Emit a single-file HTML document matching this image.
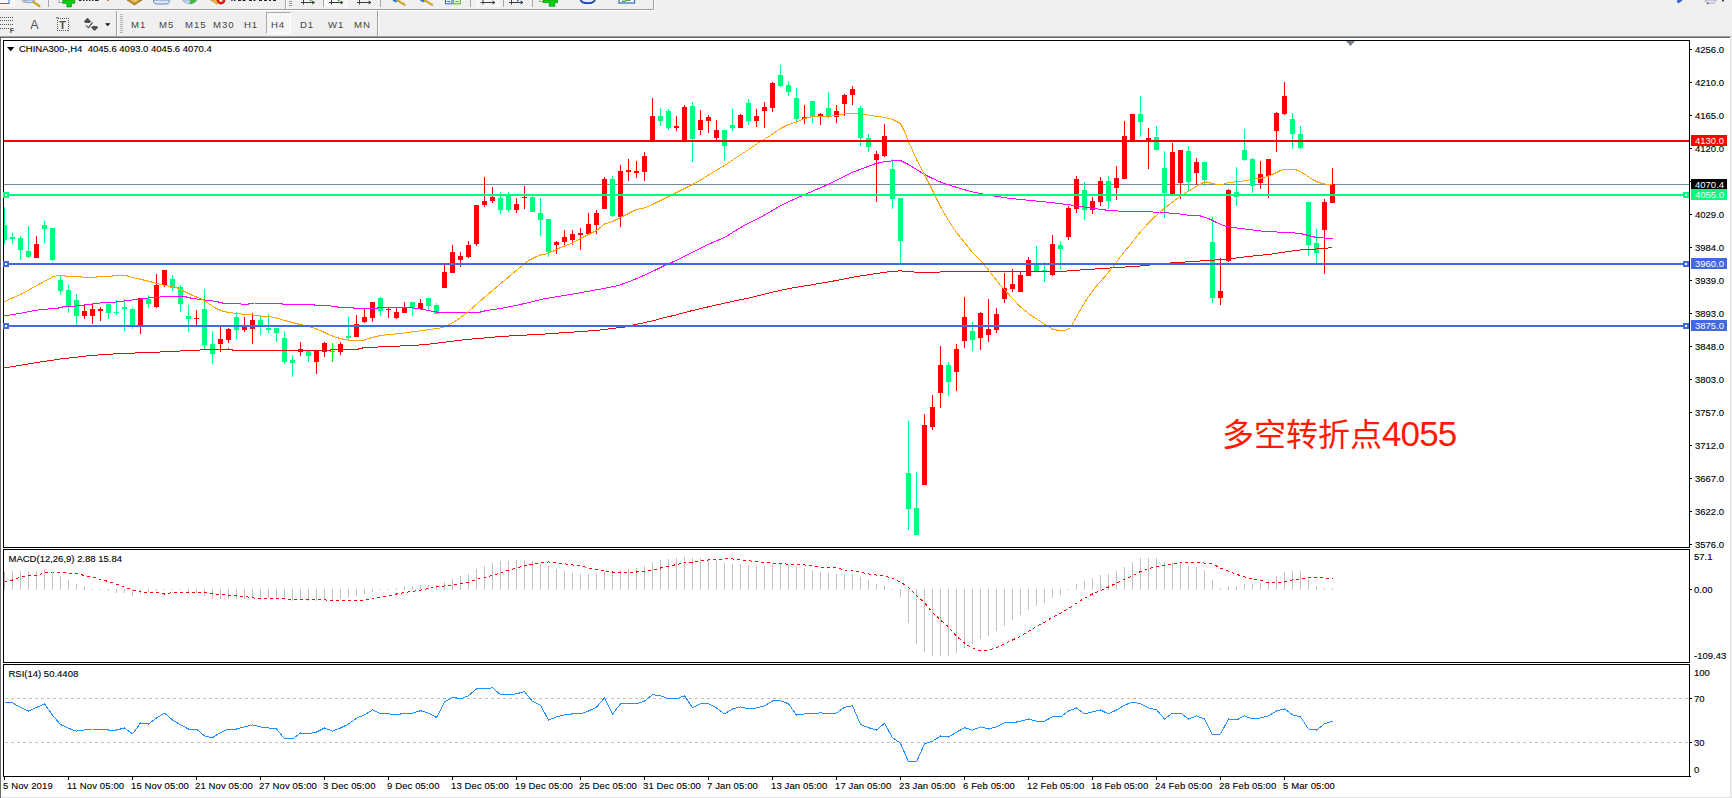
<!DOCTYPE html>
<html><head><meta charset="utf-8"><title>CHINA300-,H4</title>
<style>
html,body{margin:0;padding:0;background:#fff;}
body{width:1732px;height:798px;overflow:hidden;position:relative;font-family:"Liberation Sans","Noto Sans CJK SC",sans-serif;font-size:9.5px;line-height:10px;color:#000;}
.a{position:absolute;}
.t{position:absolute;white-space:pre;letter-spacing:0;height:10px;-webkit-text-stroke:.12px #000;}
.tb{position:absolute;white-space:pre;color:#444;font-size:9.6px;letter-spacing:0.9px}
.d{position:absolute;white-space:pre;letter-spacing:0.12px;height:10px;-webkit-text-stroke:.12px #000;}
.tag{position:absolute;left:1691px;width:36px;color:#fff;}
.tag span{position:absolute;left:4px;top:1px;white-space:pre;letter-spacing:0}
svg{position:absolute;left:0;top:0;}
</style></head><body>
<div class="a" style="left:0;top:0;width:1732px;height:36px;background:#f0f0f0"></div><div class="a" style="left:0;top:9px;width:654px;height:1px;background:#a0a0a0"></div><div class="a" style="left:0;top:10px;width:655px;height:1px;background:#fff"></div><div class="a" style="left:653px;top:0;width:1px;height:9px;background:#a0a0a0"></div><div class="a" style="left:654px;top:0;width:1px;height:10px;background:#fff"></div><div class="a" style="left:0;top:36px;width:1731px;height:1px;background:#a0a0a0"></div><div class="a" style="left:0;top:37px;width:1730px;height:1px;background:#696969"></div><div class="a" style="left:0;top:37px;width:1px;height:761px;background:#696969"></div><div class="a" style="left:1730px;top:38px;width:1px;height:760px;background:#e3e3e3"></div><div class="a" style="left:1731px;top:36px;width:1px;height:762px;background:#f0f0f0"></div><div class="a" style="left:1px;top:797px;width:1731px;height:1px;background:#e3e3e3"></div><div class="a" style="left:116px;top:11px;width:1px;height:25px;background:#a0a0a0"></div><div class="a" style="left:117px;top:11px;width:1px;height:25px;background:#fff"></div><div class="a" style="left:377px;top:11px;width:1px;height:25px;background:#a0a0a0"></div><div class="a" style="left:378px;top:11px;width:1px;height:25px;background:#fff"></div><div class="a" style="left:120px;top:14px;width:3px;height:20px;background:repeating-linear-gradient(#b4b4b4 0,#b4b4b4 1px,#f0f0f0 1px,#f0f0f0 2px)"></div><div class="a" style="left:266px;top:12px;width:25px;height:22px;background:#f6f6f6;border:1px solid #a8a8a8;box-sizing:border-box;border-right-color:#fff;border-bottom-color:#fff"></div><div class="tb" style="left:131px;top:20px">M1</div><div class="tb" style="left:159px;top:20px">M5</div><div class="tb" style="left:185px;top:20px">M15</div><div class="tb" style="left:213px;top:20px">M30</div><div class="tb" style="left:244px;top:20px">H1</div><div class="tb" style="left:271px;top:20px">H4</div><div class="tb" style="left:300px;top:20px">D1</div><div class="tb" style="left:328px;top:20px">W1</div><div class="tb" style="left:354px;top:20px">MN</div>
<svg width="1732" height="798" viewBox="0 0 1732 798" shape-rendering="crispEdges">
<defs><clipPath id="cm"><rect x="4" y="41" width="1685" height="506"/></clipPath><clipPath id="c2"><rect x="4" y="550" width="1685" height="112"/></clipPath><clipPath id="c3"><rect x="4" y="665" width="1685" height="111"/></clipPath></defs>
<path d="M3.5 40.5H1689.5V547.5H3.5Z" fill="none" stroke="#000" stroke-width="1"/>
<path d="M3.5 549.5H1689.5V662.5H3.5Z" fill="none" stroke="#000" stroke-width="1"/>
<path d="M3.5 664.5H1689.5V776.5H3.5Z" fill="none" stroke="#000" stroke-width="1"/>
<rect x="1690" y="49" width="2" height="1" fill="#000"/>
<rect x="1690" y="82" width="2" height="1" fill="#000"/>
<rect x="1690" y="115" width="2" height="1" fill="#000"/>
<rect x="1690" y="148" width="2" height="1" fill="#000"/>
<rect x="1690" y="181" width="2" height="1" fill="#000"/>
<rect x="1690" y="214" width="2" height="1" fill="#000"/>
<rect x="1690" y="247" width="2" height="1" fill="#000"/>
<rect x="1690" y="280" width="2" height="1" fill="#000"/>
<rect x="1690" y="313" width="2" height="1" fill="#000"/>
<rect x="1690" y="346" width="2" height="1" fill="#000"/>
<rect x="1690" y="379" width="2" height="1" fill="#000"/>
<rect x="1690" y="412" width="2" height="1" fill="#000"/>
<rect x="1690" y="445" width="2" height="1" fill="#000"/>
<rect x="1690" y="478" width="2" height="1" fill="#000"/>
<rect x="1690" y="511" width="2" height="1" fill="#000"/>
<rect x="1690" y="544" width="2" height="1" fill="#000"/>
<rect x="1690" y="589" width="2" height="1" fill="#000"/>
<rect x="1690" y="698" width="2" height="1" fill="#000"/>
<rect x="1690" y="742" width="2" height="1" fill="#000"/>
<rect x="1690" y="776" width="1" height="1" fill="#000"/>
<rect x="4" y="777" width="1" height="3" fill="#000"/>
<rect x="68" y="777" width="1" height="3" fill="#000"/>
<rect x="132" y="777" width="1" height="3" fill="#000"/>
<rect x="196" y="777" width="1" height="3" fill="#000"/>
<rect x="260" y="777" width="1" height="3" fill="#000"/>
<rect x="324" y="777" width="1" height="3" fill="#000"/>
<rect x="388" y="777" width="1" height="3" fill="#000"/>
<rect x="452" y="777" width="1" height="3" fill="#000"/>
<rect x="516" y="777" width="1" height="3" fill="#000"/>
<rect x="580" y="777" width="1" height="3" fill="#000"/>
<rect x="644" y="777" width="1" height="3" fill="#000"/>
<rect x="708" y="777" width="1" height="3" fill="#000"/>
<rect x="772" y="777" width="1" height="3" fill="#000"/>
<rect x="836" y="777" width="1" height="3" fill="#000"/>
<rect x="900" y="777" width="1" height="3" fill="#000"/>
<rect x="964" y="777" width="1" height="3" fill="#000"/>
<rect x="1028" y="777" width="1" height="3" fill="#000"/>
<rect x="1092" y="777" width="1" height="3" fill="#000"/>
<rect x="1156" y="777" width="1" height="3" fill="#000"/>
<rect x="1220" y="777" width="1" height="3" fill="#000"/>
<rect x="1284" y="777" width="1" height="3" fill="#000"/>
<path d="M1346 41H1355L1350.5 46Z" fill="#708090" shape-rendering="auto"/>
<g clip-path="url(#cm)">
<rect x="4" y="184" width="1685" height="1" fill="#778899"/>
<rect x="4" y="207" width="1" height="37" fill="#00ff7f"/><rect x="2" y="225" width="5" height="15" fill="#00ff7f"/>
<rect x="12" y="233" width="1" height="11" fill="#00ff7f"/><rect x="10" y="237" width="5" height="2" fill="#00ff7f"/>
<rect x="20" y="236" width="1" height="24" fill="#00ff7f"/><rect x="18" y="238" width="5" height="12" fill="#00ff7f"/>
<rect x="28" y="226" width="1" height="32" fill="#00ff7f"/><rect x="26" y="251" width="5" height="6" fill="#00ff7f"/>
<rect x="36" y="236" width="1" height="22" fill="#ff0000"/><rect x="34" y="244" width="5" height="14" fill="#ff0000"/>
<rect x="44" y="221" width="1" height="22" fill="#00ff7f"/><rect x="42" y="225" width="5" height="4" fill="#00ff7f"/>
<rect x="52" y="228" width="1" height="33" fill="#00ff7f"/><rect x="50" y="228" width="5" height="32" fill="#00ff7f"/>
<rect x="60" y="275" width="1" height="20" fill="#00ff7f"/><rect x="58" y="280" width="5" height="11" fill="#00ff7f"/>
<rect x="68" y="285" width="1" height="28" fill="#00ff7f"/><rect x="66" y="290" width="5" height="16" fill="#00ff7f"/>
<rect x="76" y="294" width="1" height="32" fill="#00ff7f"/><rect x="74" y="300" width="5" height="16" fill="#00ff7f"/>
<rect x="84" y="305" width="1" height="14" fill="#ff0000"/><rect x="82" y="311" width="5" height="5" fill="#ff0000"/>
<rect x="92" y="304" width="1" height="20" fill="#ff0000"/><rect x="90" y="309" width="5" height="7" fill="#ff0000"/>
<rect x="100" y="307" width="1" height="14" fill="#ff0000"/><rect x="98" y="309" width="5" height="2" fill="#ff0000"/>
<rect x="108" y="303" width="1" height="16" fill="#00ff7f"/><rect x="106" y="304" width="5" height="9" fill="#00ff7f"/>
<rect x="116" y="300" width="1" height="15" fill="#00ff7f"/><rect x="114" y="312" width="5" height="1" fill="#00ff7f"/>
<rect x="124" y="299" width="1" height="32" fill="#00ff7f"/><rect x="122" y="307" width="5" height="2" fill="#00ff7f"/>
<rect x="132" y="308" width="1" height="21" fill="#00ff7f"/><rect x="130" y="309" width="5" height="18" fill="#00ff7f"/>
<rect x="140" y="298" width="1" height="36" fill="#ff0000"/><rect x="138" y="298" width="5" height="29" fill="#ff0000"/>
<rect x="148" y="295" width="1" height="13" fill="#00ff7f"/><rect x="146" y="299" width="5" height="5" fill="#00ff7f"/>
<rect x="156" y="274" width="1" height="34" fill="#ff0000"/><rect x="154" y="285" width="5" height="22" fill="#ff0000"/>
<rect x="164" y="270" width="1" height="17" fill="#ff0000"/><rect x="162" y="270" width="5" height="15" fill="#ff0000"/>
<rect x="172" y="275" width="1" height="16" fill="#00ff7f"/><rect x="170" y="279" width="5" height="9" fill="#00ff7f"/>
<rect x="180" y="285" width="1" height="27" fill="#00ff7f"/><rect x="178" y="287" width="5" height="17" fill="#00ff7f"/>
<rect x="188" y="305" width="1" height="27" fill="#00ff7f"/><rect x="186" y="316" width="5" height="3" fill="#00ff7f"/>
<rect x="196" y="310" width="1" height="16" fill="#ff0000"/><rect x="194" y="318" width="5" height="1" fill="#ff0000"/>
<rect x="204" y="289" width="1" height="61" fill="#00ff7f"/><rect x="202" y="309" width="5" height="36" fill="#00ff7f"/>
<rect x="212" y="331" width="1" height="33" fill="#00ff7f"/><rect x="210" y="344" width="5" height="10" fill="#00ff7f"/>
<rect x="220" y="327" width="1" height="25" fill="#ff0000"/><rect x="218" y="339" width="5" height="5" fill="#ff0000"/>
<rect x="228" y="328" width="1" height="15" fill="#ff0000"/><rect x="226" y="329" width="5" height="11" fill="#ff0000"/>
<rect x="236" y="312" width="1" height="27" fill="#00ff7f"/><rect x="234" y="317" width="5" height="13" fill="#00ff7f"/>
<rect x="244" y="317" width="1" height="15" fill="#ff0000"/><rect x="242" y="326" width="5" height="4" fill="#ff0000"/>
<rect x="252" y="313" width="1" height="31" fill="#ff0000"/><rect x="250" y="320" width="5" height="9" fill="#ff0000"/>
<rect x="260" y="316" width="1" height="19" fill="#00ff7f"/><rect x="258" y="320" width="5" height="6" fill="#00ff7f"/>
<rect x="268" y="314" width="1" height="19" fill="#00ff7f"/><rect x="266" y="328" width="5" height="2" fill="#00ff7f"/>
<rect x="276" y="328" width="1" height="14" fill="#00ff7f"/><rect x="274" y="328" width="5" height="5" fill="#00ff7f"/>
<rect x="284" y="331" width="1" height="33" fill="#00ff7f"/><rect x="282" y="338" width="5" height="24" fill="#00ff7f"/>
<rect x="292" y="355" width="1" height="22" fill="#00ff7f"/><rect x="290" y="360" width="5" height="3" fill="#00ff7f"/>
<rect x="300" y="342" width="1" height="14" fill="#ff0000"/><rect x="298" y="349" width="5" height="3" fill="#ff0000"/>
<rect x="308" y="350" width="1" height="12" fill="#00ff7f"/><rect x="306" y="350" width="5" height="6" fill="#00ff7f"/>
<rect x="316" y="351" width="1" height="23" fill="#ff0000"/><rect x="314" y="351" width="5" height="11" fill="#ff0000"/>
<rect x="324" y="342" width="1" height="15" fill="#ff0000"/><rect x="322" y="343" width="5" height="9" fill="#ff0000"/>
<rect x="332" y="343" width="1" height="19" fill="#00ff00"/><rect x="330" y="351" width="5" height="1" fill="#00ff00"/>
<rect x="340" y="342" width="1" height="13" fill="#ff0000"/><rect x="338" y="344" width="5" height="8" fill="#ff0000"/>
<rect x="348" y="317" width="1" height="22" fill="#00ff7f"/><rect x="346" y="336" width="5" height="2" fill="#00ff7f"/>
<rect x="356" y="315" width="1" height="22" fill="#ff0000"/><rect x="354" y="324" width="5" height="13" fill="#ff0000"/>
<rect x="364" y="308" width="1" height="15" fill="#ff0000"/><rect x="362" y="317" width="5" height="5" fill="#ff0000"/>
<rect x="372" y="302" width="1" height="20" fill="#ff0000"/><rect x="370" y="302" width="5" height="16" fill="#ff0000"/>
<rect x="380" y="297" width="1" height="19" fill="#00ff7f"/><rect x="378" y="298" width="5" height="13" fill="#00ff7f"/>
<rect x="388" y="307" width="1" height="11" fill="#ff0000"/><rect x="386" y="309" width="5" height="1" fill="#ff0000"/>
<rect x="396" y="307" width="1" height="12" fill="#ff0000"/><rect x="394" y="312" width="5" height="6" fill="#ff0000"/>
<rect x="404" y="302" width="1" height="11" fill="#ff0000"/><rect x="402" y="307" width="5" height="6" fill="#ff0000"/>
<rect x="412" y="302" width="1" height="14" fill="#00ff7f"/><rect x="410" y="302" width="5" height="6" fill="#00ff7f"/>
<rect x="420" y="299" width="1" height="11" fill="#ff0000"/><rect x="418" y="303" width="5" height="6" fill="#ff0000"/>
<rect x="428" y="298" width="1" height="12" fill="#00ff7f"/><rect x="426" y="298" width="5" height="8" fill="#00ff7f"/>
<rect x="436" y="303" width="1" height="11" fill="#00ff7f"/><rect x="434" y="305" width="5" height="9" fill="#00ff7f"/>
<rect x="444" y="265" width="1" height="23" fill="#ff0000"/><rect x="442" y="272" width="5" height="16" fill="#ff0000"/>
<rect x="452" y="245" width="1" height="28" fill="#ff0000"/><rect x="450" y="252" width="5" height="21" fill="#ff0000"/>
<rect x="460" y="252" width="1" height="15" fill="#ff0000"/><rect x="458" y="256" width="5" height="4" fill="#ff0000"/>
<rect x="468" y="241" width="1" height="17" fill="#ff0000"/><rect x="466" y="245" width="5" height="12" fill="#ff0000"/>
<rect x="476" y="205" width="1" height="41" fill="#ff0000"/><rect x="474" y="205" width="5" height="39" fill="#ff0000"/>
<rect x="484" y="177" width="1" height="30" fill="#ff0000"/><rect x="482" y="201" width="5" height="4" fill="#ff0000"/>
<rect x="492" y="187" width="1" height="16" fill="#ff0000"/><rect x="490" y="197" width="5" height="4" fill="#ff0000"/>
<rect x="500" y="192" width="1" height="22" fill="#00ff7f"/><rect x="498" y="198" width="5" height="12" fill="#00ff7f"/>
<rect x="508" y="192" width="1" height="20" fill="#00ff7f"/><rect x="506" y="196" width="5" height="14" fill="#00ff7f"/>
<rect x="516" y="198" width="1" height="15" fill="#ff0000"/><rect x="514" y="204" width="5" height="6" fill="#ff0000"/>
<rect x="524" y="186" width="1" height="23" fill="#ff0000"/><rect x="522" y="197" width="5" height="1" fill="#ff0000"/>
<rect x="532" y="196" width="1" height="16" fill="#00ff7f"/><rect x="530" y="197" width="5" height="15" fill="#00ff7f"/>
<rect x="540" y="198" width="1" height="38" fill="#00ff7f"/><rect x="538" y="213" width="5" height="7" fill="#00ff7f"/>
<rect x="548" y="219" width="1" height="38" fill="#00ff7f"/><rect x="546" y="219" width="5" height="33" fill="#00ff7f"/>
<rect x="556" y="241" width="1" height="13" fill="#ff0000"/><rect x="554" y="242" width="5" height="3" fill="#ff0000"/>
<rect x="564" y="230" width="1" height="17" fill="#ff0000"/><rect x="562" y="237" width="5" height="5" fill="#ff0000"/>
<rect x="572" y="230" width="1" height="15" fill="#ff0000"/><rect x="570" y="234" width="5" height="6" fill="#ff0000"/>
<rect x="580" y="228" width="1" height="22" fill="#ff0000"/><rect x="578" y="233" width="5" height="2" fill="#ff0000"/>
<rect x="588" y="213" width="1" height="21" fill="#ff0000"/><rect x="586" y="224" width="5" height="10" fill="#ff0000"/>
<rect x="596" y="210" width="1" height="24" fill="#ff0000"/><rect x="594" y="213" width="5" height="12" fill="#ff0000"/>
<rect x="604" y="177" width="1" height="32" fill="#ff0000"/><rect x="602" y="179" width="5" height="30" fill="#ff0000"/>
<rect x="612" y="176" width="1" height="41" fill="#00ff7f"/><rect x="610" y="179" width="5" height="37" fill="#00ff7f"/>
<rect x="620" y="165" width="1" height="62" fill="#ff0000"/><rect x="618" y="171" width="5" height="46" fill="#ff0000"/>
<rect x="628" y="159" width="1" height="22" fill="#ff0000"/><rect x="626" y="170" width="5" height="2" fill="#ff0000"/>
<rect x="636" y="161" width="1" height="17" fill="#ff0000"/><rect x="634" y="171" width="5" height="2" fill="#ff0000"/>
<rect x="644" y="152" width="1" height="29" fill="#ff0000"/><rect x="642" y="156" width="5" height="16" fill="#ff0000"/>
<rect x="652" y="98" width="1" height="44" fill="#ff0000"/><rect x="650" y="116" width="5" height="26" fill="#ff0000"/>
<rect x="660" y="108" width="1" height="18" fill="#00ff7f"/><rect x="658" y="116" width="5" height="5" fill="#00ff7f"/>
<rect x="668" y="109" width="1" height="21" fill="#00ff7f"/><rect x="666" y="111" width="5" height="17" fill="#00ff7f"/>
<rect x="676" y="116" width="1" height="15" fill="#ff0000"/><rect x="674" y="126" width="5" height="2" fill="#ff0000"/>
<rect x="684" y="105" width="1" height="37" fill="#ff0000"/><rect x="682" y="107" width="5" height="35" fill="#ff0000"/>
<rect x="692" y="102" width="1" height="60" fill="#00ff7f"/><rect x="690" y="106" width="5" height="33" fill="#00ff7f"/>
<rect x="700" y="110" width="1" height="25" fill="#ff0000"/><rect x="698" y="120" width="5" height="10" fill="#ff0000"/>
<rect x="708" y="115" width="1" height="18" fill="#ff0000"/><rect x="706" y="117" width="5" height="4" fill="#ff0000"/>
<rect x="716" y="120" width="1" height="20" fill="#ff0000"/><rect x="714" y="130" width="5" height="8" fill="#ff0000"/>
<rect x="724" y="130" width="1" height="31" fill="#00ff7f"/><rect x="722" y="130" width="5" height="16" fill="#00ff7f"/>
<rect x="732" y="109" width="1" height="22" fill="#00ff7f"/><rect x="730" y="125" width="5" height="3" fill="#00ff7f"/>
<rect x="740" y="114" width="1" height="14" fill="#ff0000"/><rect x="738" y="115" width="5" height="13" fill="#ff0000"/>
<rect x="748" y="99" width="1" height="26" fill="#00ff7f"/><rect x="746" y="103" width="5" height="18" fill="#00ff7f"/>
<rect x="756" y="109" width="1" height="18" fill="#ff0000"/><rect x="754" y="116" width="5" height="5" fill="#ff0000"/>
<rect x="764" y="102" width="1" height="26" fill="#ff0000"/><rect x="762" y="107" width="5" height="4" fill="#ff0000"/>
<rect x="772" y="82" width="1" height="30" fill="#ff0000"/><rect x="770" y="83" width="5" height="25" fill="#ff0000"/>
<rect x="780" y="65" width="1" height="22" fill="#00ff7f"/><rect x="778" y="75" width="5" height="11" fill="#00ff7f"/>
<rect x="788" y="81" width="1" height="15" fill="#00ff7f"/><rect x="786" y="85" width="5" height="7" fill="#00ff7f"/>
<rect x="796" y="88" width="1" height="33" fill="#00ff7f"/><rect x="794" y="98" width="5" height="21" fill="#00ff7f"/>
<rect x="804" y="105" width="1" height="19" fill="#ff0000"/><rect x="802" y="117" width="5" height="2" fill="#ff0000"/>
<rect x="812" y="101" width="1" height="22" fill="#00ff7f"/><rect x="810" y="101" width="5" height="15" fill="#00ff7f"/>
<rect x="820" y="113" width="1" height="12" fill="#ff0000"/><rect x="818" y="114" width="5" height="2" fill="#ff0000"/>
<rect x="828" y="92" width="1" height="26" fill="#00ff7f"/><rect x="826" y="108" width="5" height="9" fill="#00ff7f"/>
<rect x="836" y="105" width="1" height="18" fill="#ff0000"/><rect x="834" y="111" width="5" height="6" fill="#ff0000"/>
<rect x="844" y="94" width="1" height="22" fill="#ff0000"/><rect x="842" y="95" width="5" height="9" fill="#ff0000"/>
<rect x="852" y="86" width="1" height="19" fill="#ff0000"/><rect x="850" y="89" width="5" height="6" fill="#ff0000"/>
<rect x="860" y="106" width="1" height="40" fill="#00ff7f"/><rect x="858" y="108" width="5" height="30" fill="#00ff7f"/>
<rect x="868" y="134" width="1" height="18" fill="#00ff7f"/><rect x="866" y="138" width="5" height="9" fill="#00ff7f"/>
<rect x="876" y="151" width="1" height="51" fill="#ff0000"/><rect x="874" y="154" width="5" height="6" fill="#ff0000"/>
<rect x="884" y="124" width="1" height="33" fill="#ff0000"/><rect x="882" y="136" width="5" height="20" fill="#ff0000"/>
<rect x="892" y="159" width="1" height="50" fill="#00ff7f"/><rect x="890" y="169" width="5" height="30" fill="#00ff7f"/>
<rect x="900" y="198" width="1" height="66" fill="#00ff7f"/><rect x="898" y="198" width="5" height="43" fill="#00ff7f"/>
<rect x="908" y="421" width="1" height="109" fill="#00ff7f"/><rect x="906" y="473" width="5" height="36" fill="#00ff7f"/>
<rect x="916" y="472" width="1" height="63" fill="#00ff7f"/><rect x="914" y="508" width="5" height="27" fill="#00ff7f"/>
<rect x="924" y="414" width="1" height="71" fill="#ff0000"/><rect x="922" y="425" width="5" height="60" fill="#ff0000"/>
<rect x="932" y="395" width="1" height="35" fill="#ff0000"/><rect x="930" y="407" width="5" height="20" fill="#ff0000"/>
<rect x="940" y="346" width="1" height="62" fill="#ff0000"/><rect x="938" y="365" width="5" height="28" fill="#ff0000"/>
<rect x="948" y="362" width="1" height="34" fill="#00ff7f"/><rect x="946" y="365" width="5" height="17" fill="#00ff7f"/>
<rect x="956" y="344" width="1" height="47" fill="#ff0000"/><rect x="954" y="349" width="5" height="23" fill="#ff0000"/>
<rect x="964" y="297" width="1" height="51" fill="#ff0000"/><rect x="962" y="317" width="5" height="24" fill="#ff0000"/>
<rect x="972" y="322" width="1" height="29" fill="#00ff7f"/><rect x="970" y="331" width="5" height="9" fill="#00ff7f"/>
<rect x="980" y="312" width="1" height="38" fill="#ff0000"/><rect x="978" y="313" width="5" height="25" fill="#ff0000"/>
<rect x="988" y="299" width="1" height="43" fill="#ff0000"/><rect x="986" y="329" width="5" height="6" fill="#ff0000"/>
<rect x="996" y="308" width="1" height="25" fill="#ff0000"/><rect x="994" y="314" width="5" height="16" fill="#ff0000"/>
<rect x="1004" y="273" width="1" height="30" fill="#ff0000"/><rect x="1002" y="288" width="5" height="11" fill="#ff0000"/>
<rect x="1012" y="269" width="1" height="23" fill="#ff0000"/><rect x="1010" y="284" width="5" height="5" fill="#ff0000"/>
<rect x="1020" y="272" width="1" height="20" fill="#ff0000"/><rect x="1018" y="275" width="5" height="17" fill="#ff0000"/>
<rect x="1028" y="257" width="1" height="19" fill="#ff0000"/><rect x="1026" y="260" width="5" height="16" fill="#ff0000"/>
<rect x="1036" y="246" width="1" height="25" fill="#00ff7f"/><rect x="1034" y="263" width="5" height="8" fill="#00ff7f"/>
<rect x="1044" y="262" width="1" height="20" fill="#00ff7f"/><rect x="1042" y="270" width="5" height="1" fill="#00ff7f"/>
<rect x="1052" y="235" width="1" height="41" fill="#ff0000"/><rect x="1050" y="244" width="5" height="31" fill="#ff0000"/>
<rect x="1060" y="241" width="1" height="28" fill="#00ff7f"/><rect x="1058" y="245" width="5" height="4" fill="#00ff7f"/>
<rect x="1068" y="206" width="1" height="34" fill="#ff0000"/><rect x="1066" y="208" width="5" height="29" fill="#ff0000"/>
<rect x="1076" y="176" width="1" height="37" fill="#ff0000"/><rect x="1074" y="179" width="5" height="30" fill="#ff0000"/>
<rect x="1084" y="182" width="1" height="38" fill="#00ff7f"/><rect x="1082" y="190" width="5" height="20" fill="#00ff7f"/>
<rect x="1092" y="197" width="1" height="17" fill="#ff0000"/><rect x="1090" y="201" width="5" height="9" fill="#ff0000"/>
<rect x="1100" y="177" width="1" height="29" fill="#ff0000"/><rect x="1098" y="181" width="5" height="21" fill="#ff0000"/>
<rect x="1108" y="176" width="1" height="33" fill="#00ff7f"/><rect x="1106" y="181" width="5" height="20" fill="#00ff7f"/>
<rect x="1116" y="166" width="1" height="34" fill="#ff0000"/><rect x="1114" y="178" width="5" height="10" fill="#ff0000"/>
<rect x="1124" y="121" width="1" height="58" fill="#ff0000"/><rect x="1122" y="136" width="5" height="43" fill="#ff0000"/>
<rect x="1132" y="114" width="1" height="28" fill="#ff0000"/><rect x="1130" y="114" width="5" height="28" fill="#ff0000"/>
<rect x="1140" y="96" width="1" height="41" fill="#00ff7f"/><rect x="1138" y="114" width="5" height="8" fill="#00ff7f"/>
<rect x="1148" y="128" width="1" height="41" fill="#ff0000"/><rect x="1146" y="138" width="5" height="2" fill="#ff0000"/>
<rect x="1156" y="126" width="1" height="24" fill="#00ff7f"/><rect x="1154" y="137" width="5" height="13" fill="#00ff7f"/>
<rect x="1164" y="151" width="1" height="67" fill="#00ff7f"/><rect x="1162" y="168" width="5" height="25" fill="#00ff7f"/>
<rect x="1172" y="143" width="1" height="51" fill="#ff0000"/><rect x="1170" y="152" width="5" height="42" fill="#ff0000"/>
<rect x="1180" y="150" width="1" height="49" fill="#ff0000"/><rect x="1178" y="150" width="5" height="33" fill="#ff0000"/>
<rect x="1188" y="146" width="1" height="46" fill="#00ff7f"/><rect x="1186" y="151" width="5" height="31" fill="#00ff7f"/>
<rect x="1196" y="158" width="1" height="27" fill="#ff0000"/><rect x="1194" y="162" width="5" height="11" fill="#ff0000"/>
<rect x="1204" y="162" width="1" height="24" fill="#00ff7f"/><rect x="1202" y="162" width="5" height="18" fill="#00ff7f"/>
<rect x="1212" y="217" width="1" height="86" fill="#00ff7f"/><rect x="1210" y="242" width="5" height="56" fill="#00ff7f"/>
<rect x="1220" y="258" width="1" height="47" fill="#ff0000"/><rect x="1218" y="291" width="5" height="7" fill="#ff0000"/>
<rect x="1228" y="189" width="1" height="73" fill="#ff0000"/><rect x="1226" y="190" width="5" height="71" fill="#ff0000"/>
<rect x="1236" y="167" width="1" height="39" fill="#00ff7f"/><rect x="1234" y="192" width="5" height="5" fill="#00ff7f"/>
<rect x="1244" y="129" width="1" height="32" fill="#00ff7f"/><rect x="1242" y="150" width="5" height="10" fill="#00ff7f"/>
<rect x="1252" y="158" width="1" height="35" fill="#00ff7f"/><rect x="1250" y="159" width="5" height="27" fill="#00ff7f"/>
<rect x="1260" y="161" width="1" height="28" fill="#ff0000"/><rect x="1258" y="174" width="5" height="9" fill="#ff0000"/>
<rect x="1268" y="159" width="1" height="39" fill="#ff0000"/><rect x="1266" y="159" width="5" height="17" fill="#ff0000"/>
<rect x="1276" y="112" width="1" height="40" fill="#ff0000"/><rect x="1274" y="113" width="5" height="18" fill="#ff0000"/>
<rect x="1284" y="82" width="1" height="33" fill="#ff0000"/><rect x="1282" y="96" width="5" height="18" fill="#ff0000"/>
<rect x="1292" y="113" width="1" height="36" fill="#00ff7f"/><rect x="1290" y="119" width="5" height="15" fill="#00ff7f"/>
<rect x="1300" y="126" width="1" height="23" fill="#00ff7f"/><rect x="1298" y="134" width="5" height="14" fill="#00ff7f"/>
<rect x="1308" y="202" width="1" height="54" fill="#00ff7f"/><rect x="1306" y="202" width="5" height="43" fill="#00ff7f"/>
<rect x="1316" y="229" width="1" height="35" fill="#00ff7f"/><rect x="1314" y="243" width="5" height="10" fill="#00ff7f"/>
<rect x="1324" y="199" width="1" height="75" fill="#ff0000"/><rect x="1322" y="202" width="5" height="28" fill="#ff0000"/>
<rect x="1332" y="168" width="1" height="35" fill="#ff0000"/><rect x="1330" y="184" width="5" height="19" fill="#ff0000"/>
<polyline points="4.5,368.0 30.5,363.5 60.5,359.0 90.5,355.5 120.5,353.5 150.5,352.5 170.5,351.5 200.5,350.0 228.5,349.0 232.5,350.0 330.5,350.0 338.5,349.0 358.5,349.0 362.5,348.0 374.5,347.5 380.5,346.7 400.5,346.0 424.5,344.7 465.5,339.6 503.5,336.3 542.5,334.2 560.5,332.9 581.5,331.5 600.5,330.0 607.5,329.1 616.5,328.0 622.5,327.5 632.5,325.1 642.5,323.1 652.5,320.9 662.5,318.1 674.5,315.3 680.5,313.7 690.5,311.0 710.5,306.3 731.5,301.6 751.5,297.4 771.5,292.3 792.5,287.9 812.5,284.7 832.5,281.2 853.5,277.1 873.5,273.9 888.5,271.8 900.5,270.8 906.5,271.5 920.5,272.5 940.5,272.0 1060.5,271.5 1080.5,270.0 1110.5,268.0 1140.5,266.0 1170.5,263.0 1200.5,261.0 1208.5,260.5 1228.5,259.0 1248.5,256.5 1268.5,254.5 1288.5,251.5 1300.5,250.0 1316.5,249.0 1324.5,248.5 1332.5,247.5" fill="none" stroke="#f00808" stroke-width="1" />
<polyline points="4.5,316.0 24.5,312.5 40.5,309.5 47.5,309.5 48.5,308.5 56.5,308.5 64.5,306.5 72.5,306.5 80.5,305.5 88.5,304.5 96.5,303.5 104.5,302.5 112.5,302.5 120.5,301.5 128.5,300.5 136.5,299.5 144.5,298.5 152.5,297.5 160.5,297.0 168.5,296.5 184.5,296.5 192.5,298.5 200.5,299.5 208.5,300.5 216.5,301.5 224.5,303.5 240.5,304.0 246.5,304.5 248.5,304.0 254.5,303.0 280.5,303.0 282.5,304.0 312.5,304.0 314.5,305.0 328.5,305.0 330.5,306.0 336.5,306.5 338.5,307.5 352.5,307.5 354.5,308.5 376.5,308.5 378.5,307.5 405.5,307.5 412.5,308.0 420.5,309.0 428.5,310.5 436.5,312.0 480.5,312.0 484.5,311.0 490.5,310.0 500.5,308.5 520.5,304.5 545.5,298.5 570.5,294.5 595.5,290.0 617.5,285.8 630.5,281.2 642.5,276.0 655.5,270.0 668.5,263.5 670.5,263.0 688.5,254.3 706.5,245.2 724.5,237.4 742.5,226.4 760.5,217.4 778.5,206.9 790.5,200.9 802.5,195.6 814.5,190.3 826.5,185.1 838.5,179.1 850.5,173.1 862.5,168.5 874.5,164.0 883.5,161.8 892.5,160.8 901.5,161.0 908.5,164.5 916.5,169.5 924.5,174.5 932.5,178.5 940.5,182.0 950.5,185.5 960.5,188.5 970.5,191.5 980.5,193.5 990.5,195.5 1000.5,197.0 1010.5,198.5 1030.5,200.5 1050.5,202.5 1070.5,205.0 1090.5,208.0 1105.5,210.0 1112.5,210.0 1120.5,211.5 1145.5,211.5 1160.5,212.5 1176.5,213.5 1190.5,215.5 1200.5,216.0 1208.5,218.5 1216.5,222.5 1224.5,226.0 1232.5,227.5 1248.5,229.5 1264.5,231.5 1288.5,232.5 1300.5,233.5 1308.5,235.5 1316.5,237.5 1324.5,238.0 1332.5,238.0" fill="none" stroke="#ff00ff" stroke-width="1" />
<polyline points="4.5,301.5 20.5,294.5 40.5,283.5 52.5,277.0 57.5,275.5 64.5,275.5 66.5,276.5 80.5,276.5 82.5,277.5 95.5,277.5 97.5,276.5 111.5,276.5 113.5,275.5 126.5,275.5 128.5,276.5 137.5,278.5 145.5,280.5 153.5,282.5 160.5,284.5 170.5,286.5 176.5,287.5 184.5,291.5 192.5,295.5 200.5,298.5 204.5,300.5 208.5,303.5 214.5,307.5 220.5,310.5 228.5,312.5 236.5,313.5 244.5,314.5 252.5,315.0 260.5,316.0 268.5,316.5 276.5,318.0 284.5,320.5 292.5,322.5 300.5,324.5 312.5,327.5 320.5,330.5 328.5,334.5 336.5,337.5 344.5,339.5 348.5,340.0 364.5,340.0 368.5,338.5 376.5,336.5 380.5,335.5 400.5,333.5 440.5,328.0 446.5,326.0 456.5,320.5 468.5,311.5 478.5,302.5 490.5,292.0 504.5,280.5 512.5,273.5 520.5,267.0 528.5,260.5 536.5,256.5 540.5,255.0 546.5,254.0 552.5,251.5 560.5,247.5 572.5,243.0 580.5,238.5 590.5,233.5 596.5,230.5 604.5,224.0 612.5,221.5 620.5,217.5 628.5,213.5 636.5,209.5 644.5,208.0 652.5,204.5 660.5,200.5 670.5,195.5 680.5,190.5 690.5,185.5 700.5,180.0 712.5,172.5 724.5,165.5 736.5,157.5 748.5,149.5 760.5,141.5 770.5,135.5 780.5,128.5 788.5,124.5 796.5,122.0 804.5,118.5 812.5,116.5 828.5,116.5 836.5,115.5 844.5,114.0 852.5,113.5 860.5,113.5 870.5,115.5 885.5,117.5 892.5,119.5 900.5,123.5 904.5,131.5 908.5,141.5 916.5,159.5 924.5,174.5 932.5,190.5 940.5,206.5 948.5,220.5 956.5,232.5 964.5,242.5 972.5,252.5 980.5,260.5 990.5,272.5 1000.5,285.5 1004.5,289.5 1012.5,298.5 1020.5,307.0 1030.5,315.0 1040.5,321.5 1046.5,325.5 1052.5,329.0 1060.5,331.0 1066.5,330.0 1070.5,327.5 1074.5,320.5 1080.5,309.5 1088.5,296.5 1096.5,286.0 1104.5,277.0 1112.5,267.5 1120.5,256.5 1130.5,244.5 1141.5,230.5 1150.5,221.0 1160.5,211.5 1170.5,203.5 1180.5,196.0 1190.5,190.0 1196.5,186.5 1202.5,183.0 1206.5,182.0 1212.5,183.5 1220.5,185.0 1228.5,182.5 1240.5,181.5 1252.5,179.5 1264.5,177.5 1272.5,174.5 1280.5,170.5 1284.5,169.0 1292.5,169.0 1298.5,170.5 1306.5,175.5 1312.5,179.5 1318.5,182.5 1324.5,184.0 1332.5,184.5" fill="none" stroke="#ffa500" stroke-width="1" />
<rect x="4" y="140" width="1685" height="2" fill="#ff0000"/>
<rect x="4" y="194" width="1685" height="2" fill="#00ff7f"/>
<rect x="4" y="263" width="1685" height="2" fill="#4169e1"/>
<rect x="4" y="325" width="1685" height="2" fill="#4169e1"/>
</g>
<rect x="3" y="192" width="6" height="6" fill="#00ff7f"/><rect x="5" y="194" width="2" height="2" fill="#fff"/>
<rect x="1683" y="192" width="6" height="6" fill="#00ff7f"/><rect x="1685" y="194" width="2" height="2" fill="#fff"/>
<rect x="3" y="261" width="6" height="6" fill="#4169e1"/><rect x="5" y="263" width="2" height="2" fill="#fff"/>
<rect x="1683" y="261" width="6" height="6" fill="#4169e1"/><rect x="1685" y="263" width="2" height="2" fill="#fff"/>
<rect x="3" y="323" width="6" height="6" fill="#4169e1"/><rect x="5" y="325" width="2" height="2" fill="#fff"/>
<rect x="1683" y="323" width="6" height="6" fill="#4169e1"/><rect x="1685" y="325" width="2" height="2" fill="#fff"/>
<g clip-path="url(#c2)">
<rect x="4" y="572" width="1" height="18" fill="#c0c0c0"/>
<rect x="12" y="571" width="1" height="19" fill="#c0c0c0"/>
<rect x="20" y="571" width="1" height="19" fill="#c0c0c0"/>
<rect x="28" y="571" width="1" height="19" fill="#c0c0c0"/>
<rect x="36" y="571" width="1" height="19" fill="#c0c0c0"/>
<rect x="44" y="570" width="1" height="20" fill="#c0c0c0"/>
<rect x="52" y="572" width="1" height="18" fill="#c0c0c0"/>
<rect x="60" y="576" width="1" height="14" fill="#c0c0c0"/>
<rect x="68" y="580" width="1" height="10" fill="#c0c0c0"/>
<rect x="76" y="584" width="1" height="6" fill="#c0c0c0"/>
<rect x="84" y="587" width="1" height="3" fill="#c0c0c0"/>
<rect x="92" y="589" width="1" height="1" fill="#c0c0c0"/>
<rect x="100" y="589" width="1" height="1" fill="#c0c0c0"/>
<rect x="108" y="589" width="1" height="2" fill="#c0c0c0"/>
<rect x="116" y="589" width="1" height="4" fill="#c0c0c0"/>
<rect x="124" y="589" width="1" height="4" fill="#c0c0c0"/>
<rect x="132" y="589" width="1" height="7" fill="#c0c0c0"/>
<rect x="140" y="589" width="1" height="5" fill="#c0c0c0"/>
<rect x="148" y="589" width="1" height="3" fill="#c0c0c0"/>
<rect x="156" y="589" width="1" height="2" fill="#c0c0c0"/>
<rect x="164" y="589" width="1" height="1" fill="#c0c0c0"/>
<rect x="172" y="589" width="1" height="1" fill="#c0c0c0"/>
<rect x="180" y="589" width="1" height="1" fill="#c0c0c0"/>
<rect x="188" y="589" width="1" height="3" fill="#c0c0c0"/>
<rect x="196" y="589" width="1" height="4" fill="#c0c0c0"/>
<rect x="204" y="589" width="1" height="7" fill="#c0c0c0"/>
<rect x="212" y="589" width="1" height="10" fill="#c0c0c0"/>
<rect x="220" y="589" width="1" height="10" fill="#c0c0c0"/>
<rect x="228" y="589" width="1" height="10" fill="#c0c0c0"/>
<rect x="236" y="589" width="1" height="10" fill="#c0c0c0"/>
<rect x="244" y="589" width="1" height="10" fill="#c0c0c0"/>
<rect x="252" y="589" width="1" height="9" fill="#c0c0c0"/>
<rect x="260" y="589" width="1" height="9" fill="#c0c0c0"/>
<rect x="268" y="589" width="1" height="9" fill="#c0c0c0"/>
<rect x="276" y="589" width="1" height="9" fill="#c0c0c0"/>
<rect x="284" y="589" width="1" height="10" fill="#c0c0c0"/>
<rect x="292" y="589" width="1" height="12" fill="#c0c0c0"/>
<rect x="300" y="589" width="1" height="11" fill="#c0c0c0"/>
<rect x="308" y="589" width="1" height="12" fill="#c0c0c0"/>
<rect x="316" y="589" width="1" height="12" fill="#c0c0c0"/>
<rect x="324" y="589" width="1" height="11" fill="#c0c0c0"/>
<rect x="332" y="589" width="1" height="11" fill="#c0c0c0"/>
<rect x="340" y="589" width="1" height="10" fill="#c0c0c0"/>
<rect x="348" y="589" width="1" height="9" fill="#c0c0c0"/>
<rect x="356" y="589" width="1" height="7" fill="#c0c0c0"/>
<rect x="364" y="589" width="1" height="5" fill="#c0c0c0"/>
<rect x="372" y="589" width="1" height="3" fill="#c0c0c0"/>
<rect x="380" y="589" width="1" height="1" fill="#c0c0c0"/>
<rect x="388" y="589" width="1" height="1" fill="#c0c0c0"/>
<rect x="396" y="588" width="1" height="2" fill="#c0c0c0"/>
<rect x="404" y="587" width="1" height="3" fill="#c0c0c0"/>
<rect x="412" y="586" width="1" height="4" fill="#c0c0c0"/>
<rect x="420" y="585" width="1" height="5" fill="#c0c0c0"/>
<rect x="428" y="585" width="1" height="5" fill="#c0c0c0"/>
<rect x="436" y="585" width="1" height="5" fill="#c0c0c0"/>
<rect x="444" y="582" width="1" height="8" fill="#c0c0c0"/>
<rect x="452" y="579" width="1" height="11" fill="#c0c0c0"/>
<rect x="460" y="576" width="1" height="14" fill="#c0c0c0"/>
<rect x="468" y="574" width="1" height="16" fill="#c0c0c0"/>
<rect x="476" y="569" width="1" height="21" fill="#c0c0c0"/>
<rect x="484" y="566" width="1" height="24" fill="#c0c0c0"/>
<rect x="492" y="563" width="1" height="27" fill="#c0c0c0"/>
<rect x="500" y="561" width="1" height="29" fill="#c0c0c0"/>
<rect x="508" y="561" width="1" height="29" fill="#c0c0c0"/>
<rect x="516" y="560" width="1" height="30" fill="#c0c0c0"/>
<rect x="524" y="560" width="1" height="30" fill="#c0c0c0"/>
<rect x="532" y="561" width="1" height="29" fill="#c0c0c0"/>
<rect x="540" y="563" width="1" height="27" fill="#c0c0c0"/>
<rect x="548" y="566" width="1" height="24" fill="#c0c0c0"/>
<rect x="556" y="569" width="1" height="21" fill="#c0c0c0"/>
<rect x="564" y="571" width="1" height="19" fill="#c0c0c0"/>
<rect x="572" y="573" width="1" height="17" fill="#c0c0c0"/>
<rect x="580" y="574" width="1" height="16" fill="#c0c0c0"/>
<rect x="588" y="574" width="1" height="16" fill="#c0c0c0"/>
<rect x="596" y="574" width="1" height="16" fill="#c0c0c0"/>
<rect x="604" y="572" width="1" height="18" fill="#c0c0c0"/>
<rect x="612" y="573" width="1" height="17" fill="#c0c0c0"/>
<rect x="620" y="570" width="1" height="20" fill="#c0c0c0"/>
<rect x="628" y="569" width="1" height="21" fill="#c0c0c0"/>
<rect x="636" y="568" width="1" height="22" fill="#c0c0c0"/>
<rect x="644" y="566" width="1" height="24" fill="#c0c0c0"/>
<rect x="652" y="562" width="1" height="28" fill="#c0c0c0"/>
<rect x="660" y="560" width="1" height="30" fill="#c0c0c0"/>
<rect x="668" y="559" width="1" height="31" fill="#c0c0c0"/>
<rect x="676" y="558" width="1" height="32" fill="#c0c0c0"/>
<rect x="684" y="557" width="1" height="33" fill="#c0c0c0"/>
<rect x="692" y="558" width="1" height="32" fill="#c0c0c0"/>
<rect x="700" y="558" width="1" height="32" fill="#c0c0c0"/>
<rect x="708" y="560" width="1" height="30" fill="#c0c0c0"/>
<rect x="716" y="560" width="1" height="30" fill="#c0c0c0"/>
<rect x="724" y="563" width="1" height="27" fill="#c0c0c0"/>
<rect x="732" y="564" width="1" height="26" fill="#c0c0c0"/>
<rect x="740" y="564" width="1" height="26" fill="#c0c0c0"/>
<rect x="748" y="565" width="1" height="25" fill="#c0c0c0"/>
<rect x="756" y="566" width="1" height="24" fill="#c0c0c0"/>
<rect x="764" y="566" width="1" height="24" fill="#c0c0c0"/>
<rect x="772" y="564" width="1" height="26" fill="#c0c0c0"/>
<rect x="780" y="564" width="1" height="26" fill="#c0c0c0"/>
<rect x="788" y="564" width="1" height="26" fill="#c0c0c0"/>
<rect x="796" y="566" width="1" height="24" fill="#c0c0c0"/>
<rect x="804" y="568" width="1" height="22" fill="#c0c0c0"/>
<rect x="812" y="570" width="1" height="20" fill="#c0c0c0"/>
<rect x="820" y="572" width="1" height="18" fill="#c0c0c0"/>
<rect x="828" y="573" width="1" height="17" fill="#c0c0c0"/>
<rect x="836" y="574" width="1" height="16" fill="#c0c0c0"/>
<rect x="844" y="574" width="1" height="16" fill="#c0c0c0"/>
<rect x="852" y="574" width="1" height="16" fill="#c0c0c0"/>
<rect x="860" y="577" width="1" height="13" fill="#c0c0c0"/>
<rect x="868" y="580" width="1" height="10" fill="#c0c0c0"/>
<rect x="876" y="584" width="1" height="6" fill="#c0c0c0"/>
<rect x="884" y="585" width="1" height="5" fill="#c0c0c0"/>
<rect x="892" y="589" width="1" height="1" fill="#c0c0c0"/>
<rect x="900" y="589" width="1" height="8" fill="#c0c0c0"/>
<rect x="908" y="589" width="1" height="34" fill="#c0c0c0"/>
<rect x="916" y="589" width="1" height="55" fill="#c0c0c0"/>
<rect x="924" y="589" width="1" height="63" fill="#c0c0c0"/>
<rect x="932" y="589" width="1" height="67" fill="#c0c0c0"/>
<rect x="940" y="589" width="1" height="67" fill="#c0c0c0"/>
<rect x="948" y="589" width="1" height="67" fill="#c0c0c0"/>
<rect x="956" y="589" width="1" height="64" fill="#c0c0c0"/>
<rect x="964" y="589" width="1" height="59" fill="#c0c0c0"/>
<rect x="972" y="589" width="1" height="55" fill="#c0c0c0"/>
<rect x="980" y="589" width="1" height="50" fill="#c0c0c0"/>
<rect x="988" y="589" width="1" height="47" fill="#c0c0c0"/>
<rect x="996" y="589" width="1" height="42" fill="#c0c0c0"/>
<rect x="1004" y="589" width="1" height="37" fill="#c0c0c0"/>
<rect x="1012" y="589" width="1" height="31" fill="#c0c0c0"/>
<rect x="1020" y="589" width="1" height="26" fill="#c0c0c0"/>
<rect x="1028" y="589" width="1" height="21" fill="#c0c0c0"/>
<rect x="1036" y="589" width="1" height="17" fill="#c0c0c0"/>
<rect x="1044" y="589" width="1" height="14" fill="#c0c0c0"/>
<rect x="1052" y="589" width="1" height="9" fill="#c0c0c0"/>
<rect x="1060" y="589" width="1" height="6" fill="#c0c0c0"/>
<rect x="1068" y="589" width="1" height="1" fill="#c0c0c0"/>
<rect x="1076" y="584" width="1" height="6" fill="#c0c0c0"/>
<rect x="1084" y="581" width="1" height="9" fill="#c0c0c0"/>
<rect x="1092" y="578" width="1" height="12" fill="#c0c0c0"/>
<rect x="1100" y="575" width="1" height="15" fill="#c0c0c0"/>
<rect x="1108" y="574" width="1" height="16" fill="#c0c0c0"/>
<rect x="1116" y="571" width="1" height="19" fill="#c0c0c0"/>
<rect x="1124" y="567" width="1" height="23" fill="#c0c0c0"/>
<rect x="1132" y="562" width="1" height="28" fill="#c0c0c0"/>
<rect x="1140" y="558" width="1" height="32" fill="#c0c0c0"/>
<rect x="1148" y="558" width="1" height="32" fill="#c0c0c0"/>
<rect x="1156" y="558" width="1" height="32" fill="#c0c0c0"/>
<rect x="1164" y="562" width="1" height="28" fill="#c0c0c0"/>
<rect x="1172" y="562" width="1" height="28" fill="#c0c0c0"/>
<rect x="1180" y="563" width="1" height="27" fill="#c0c0c0"/>
<rect x="1188" y="566" width="1" height="24" fill="#c0c0c0"/>
<rect x="1196" y="567" width="1" height="23" fill="#c0c0c0"/>
<rect x="1204" y="570" width="1" height="20" fill="#c0c0c0"/>
<rect x="1212" y="580" width="1" height="10" fill="#c0c0c0"/>
<rect x="1220" y="588" width="1" height="2" fill="#c0c0c0"/>
<rect x="1228" y="587" width="1" height="3" fill="#c0c0c0"/>
<rect x="1236" y="587" width="1" height="3" fill="#c0c0c0"/>
<rect x="1244" y="584" width="1" height="6" fill="#c0c0c0"/>
<rect x="1252" y="584" width="1" height="6" fill="#c0c0c0"/>
<rect x="1260" y="583" width="1" height="7" fill="#c0c0c0"/>
<rect x="1268" y="581" width="1" height="9" fill="#c0c0c0"/>
<rect x="1276" y="576" width="1" height="14" fill="#c0c0c0"/>
<rect x="1284" y="572" width="1" height="18" fill="#c0c0c0"/>
<rect x="1292" y="571" width="1" height="19" fill="#c0c0c0"/>
<rect x="1300" y="571" width="1" height="19" fill="#c0c0c0"/>
<rect x="1308" y="579" width="1" height="11" fill="#c0c0c0"/>
<rect x="1316" y="586" width="1" height="4" fill="#c0c0c0"/>
<rect x="1324" y="588" width="1" height="2" fill="#c0c0c0"/>
<rect x="1332" y="588" width="1" height="2" fill="#c0c0c0"/>
<polyline points="4.5,582.1 12.5,580.0 20.5,577.2 28.5,576.0 36.5,575.1 44.5,573.0 52.5,572.0 60.5,572.0 68.5,573.0 76.5,573.5 84.5,575.5 92.5,576.9 100.5,579.5 108.5,581.5 116.5,584.2 124.5,587.0 132.5,590.1 140.5,591.9 148.5,592.5 156.5,592.5 164.5,594.0 172.5,592.5 180.5,592.5 188.5,592.5 196.5,592.5 204.5,592.5 212.5,594.0 220.5,594.3 228.5,595.1 236.5,595.8 244.5,596.5 252.5,597.8 260.5,598.9 268.5,598.9 276.5,598.9 284.5,598.9 292.5,599.9 300.5,599.9 308.5,599.9 316.5,599.9 324.5,599.9 332.5,600.7 340.5,600.7 348.5,600.7 356.5,600.7 364.5,599.9 372.5,598.9 380.5,597.2 388.5,595.8 396.5,594.0 404.5,592.5 412.5,591.5 420.5,590.1 428.5,588.5 436.5,587.0 444.5,586.0 452.5,584.9 460.5,583.9 468.5,582.1 476.5,579.3 484.5,577.9 492.5,575.1 500.5,573.0 508.5,570.1 516.5,568.0 524.5,565.9 532.5,564.1 540.5,563.1 548.5,562.0 556.5,562.9 564.5,563.8 572.5,565.0 580.5,565.9 588.5,568.0 596.5,569.5 604.5,571.1 612.5,572.0 620.5,572.0 628.5,572.0 636.5,572.0 644.5,571.1 652.5,570.1 660.5,568.0 668.5,566.5 676.5,564.5 684.5,562.9 692.5,562.0 700.5,561.0 708.5,560.0 716.5,559.2 724.5,558.9 732.5,558.9 740.5,560.0 748.5,560.7 756.5,561.7 764.5,562.9 772.5,562.9 780.5,563.8 788.5,564.1 796.5,564.8 804.5,565.0 812.5,565.9 820.5,566.9 828.5,567.8 836.5,568.0 844.5,569.9 852.5,570.9 860.5,572.3 868.5,573.9 876.5,575.1 884.5,576.0 892.5,578.5 900.5,582.1 908.5,587.3 916.5,595.5 924.5,602.9 932.5,612.3 940.5,620.0 948.5,627.0 956.5,636.1 964.5,643.1 972.5,648.3 980.5,650.9 988.5,649.9 996.5,647.8 1004.5,643.8 1012.5,640.0 1020.5,636.1 1028.5,631.2 1036.5,626.3 1044.5,622.1 1052.5,617.2 1060.5,613.2 1068.5,608.7 1076.5,603.1 1084.5,598.2 1092.5,594.0 1100.5,590.5 1108.5,587.0 1116.5,583.1 1124.5,579.3 1132.5,575.8 1140.5,571.5 1148.5,568.7 1156.5,566.5 1164.5,565.2 1172.5,564.1 1180.5,562.0 1188.5,562.0 1196.5,562.0 1204.5,563.1 1212.5,564.1 1220.5,568.0 1228.5,571.3 1236.5,574.4 1244.5,576.9 1252.5,579.3 1260.5,580.3 1268.5,582.8 1276.5,582.8 1284.5,581.4 1292.5,580.0 1300.5,579.0 1308.5,577.9 1316.5,577.9 1324.5,577.9 1332.5,579.0" fill="none" stroke="#ff0000" stroke-width="1" stroke-dasharray="3 3"/>
</g>
<g clip-path="url(#c3)">
<path d="M5 698.5H1689" stroke="#c0c0c0" stroke-width="1" stroke-dasharray="3 3" fill="none"/>
<path d="M5 742.5H1689" stroke="#c0c0c0" stroke-width="1" stroke-dasharray="3 3" fill="none"/>
<polyline points="4.5,702.9 12.5,702.9 20.5,707.5 28.5,711.0 36.5,707.5 44.5,703.8 52.5,715.1 60.5,724.5 68.5,728.3 76.5,731.1 84.5,730.0 92.5,729.0 100.5,729.0 108.5,730.0 116.5,730.0 124.5,728.0 132.5,733.8 140.5,723.0 148.5,724.1 156.5,717.9 164.5,713.1 172.5,720.0 180.5,724.8 188.5,729.0 196.5,729.0 204.5,735.9 212.5,737.7 220.5,732.5 228.5,729.0 236.5,729.0 244.5,726.9 252.5,724.8 260.5,726.9 268.5,728.0 276.5,729.0 284.5,738.7 292.5,739.0 300.5,732.9 308.5,733.8 316.5,732.0 324.5,728.0 332.5,731.1 340.5,728.0 348.5,724.1 356.5,718.2 364.5,714.9 372.5,709.9 380.5,713.8 388.5,713.8 396.5,714.9 404.5,713.1 412.5,713.1 420.5,710.7 428.5,713.1 436.5,717.6 444.5,702.0 452.5,697.1 460.5,698.9 468.5,695.7 476.5,688.9 484.5,688.9 492.5,687.8 500.5,694.7 508.5,694.7 516.5,693.8 524.5,691.7 532.5,701.3 540.5,705.1 548.5,720.0 556.5,716.9 564.5,714.8 572.5,713.9 580.5,713.9 588.5,711.0 596.5,707.2 604.5,697.9 612.5,714.1 620.5,703.8 628.5,703.8 636.5,703.8 644.5,701.0 652.5,694.7 660.5,695.7 668.5,698.9 676.5,698.9 684.5,695.7 692.5,707.9 700.5,703.8 708.5,703.8 716.5,707.9 724.5,713.9 732.5,709.0 740.5,706.9 748.5,709.0 756.5,707.9 764.5,705.8 772.5,701.0 780.5,700.7 788.5,703.8 796.5,715.1 804.5,713.9 812.5,713.9 820.5,712.8 828.5,713.9 836.5,713.0 844.5,707.2 852.5,705.8 860.5,724.5 868.5,727.7 876.5,730.1 884.5,723.2 892.5,737.7 900.5,743.2 908.5,761.9 916.5,761.9 924.5,743.9 932.5,741.2 940.5,736.0 948.5,737.0 956.5,732.2 964.5,727.7 972.5,730.1 980.5,726.9 988.5,729.0 996.5,726.9 1004.5,722.9 1012.5,722.9 1020.5,721.1 1028.5,719.0 1036.5,721.1 1044.5,721.1 1052.5,716.9 1060.5,716.9 1068.5,711.0 1076.5,707.9 1084.5,713.9 1092.5,711.8 1100.5,710.0 1108.5,713.9 1116.5,710.0 1124.5,705.1 1132.5,702.1 1140.5,703.8 1148.5,707.9 1156.5,709.7 1164.5,719.0 1172.5,713.0 1180.5,713.0 1188.5,719.0 1196.5,715.9 1204.5,719.0 1212.5,734.9 1220.5,734.0 1228.5,719.0 1236.5,720.0 1244.5,715.9 1252.5,719.0 1260.5,718.0 1268.5,715.9 1276.5,711.0 1284.5,708.9 1292.5,714.8 1300.5,716.9 1308.5,729.0 1316.5,730.1 1324.5,723.8 1332.5,721.1" fill="none" stroke="#1e90ff" stroke-width="1" />
</g>
</svg>
<svg width="700" height="36" viewBox="0 0 700 36" style="position:absolute;left:0;top:0">
<!-- top row partial icons -->
<rect x="0" y="0" width="15" height="6" fill="#f8f8f8"/>
<rect x="-1" y="-5" width="10" height="8.5" fill="#fff" stroke="#2f74c8" stroke-width="1"/>
<path d="M22 0H27.5V2.4H23.5Z" fill="#d9d2c4" stroke="#a09888" stroke-width=".6"/>
<path d="M24.8 0A5 3.6 0 0 0 34.6 0Z" fill="#cfe6fb" stroke="#7f9fc4" stroke-width="1"/>
<path d="M33.6 2L39.4 6" stroke="#c89a18" stroke-width="2.2" stroke-linecap="round"/>
<path d="M34 1.6L39.8 5.4" stroke="#e9c75a" stroke-width=".8"/>
<rect x="48" y="0" width="1" height="7" fill="#a8a8a8"/>
<rect x="59" y="-1" width="4.5" height="3.4" fill="#fff" stroke="#8c8c8c" stroke-width=".8"/>
<path d="M62.8 0H74.8V3.2H71.4V6.9H66.9V3.2H62.8Z" fill="#0ed00e" stroke="#0a9a0a" stroke-width=".8"/>
<g fill="#222"><rect x="79" y="0" width="2.5" height="1"/><rect x="83" y="0" width="1.5" height="1"/><rect x="86" y="0" width="1.5" height="1"/><rect x="89" y="0" width="1.5" height="1"/><rect x="92" y="0" width="1.5" height="1"/><rect x="95" y="0" width="3.5" height="1"/></g>
<rect x="107" y="0" width="2" height="1" fill="#d08020"/>
<path d="M127 0H142L134.5 5Z" fill="#c8922a" stroke="#8e6414" stroke-width=".7"/>
<path d="M130 0H139L134.5 2.6Z" fill="#e9c46a"/>
<path d="M153.5 0V1.8Q154 4 157 4H166Q169 4 169.3 1.8V0Z" fill="#dfe8f7" stroke="#5f7fbe" stroke-width=".9"/>
<path d="M182.5 0A7.5 4.6 0 0 0 197 0Z" fill="#c7d7ee" stroke="#8aa0c4" stroke-width=".7"/>
<path d="M190 0Q190.5 3 188.5 4.3Q194 4.4 196.8 0Z" fill="#45b845"/>
<path d="M210.5 0L217 4.3L221 0Z" fill="#e8c04a" stroke="#b08a20" stroke-width=".6"/>
<path d="M216.6 0A4.3 4.3 0 0 0 225.4 0Z" fill="#e01808"/>
<rect x="219.3" y="0" width="3.2" height="1.6" fill="#fff"/>
<g fill="#222"><rect x="231" y="0" width="1.5" height="1"/><rect x="234" y="0" width="1.5" height="1"/><rect x="238" y="0" width="3" height="1"/><rect x="242.5" y="0" width="3" height="1"/><rect x="249" y="0" width="3" height="1"/><rect x="253.5" y="0" width="2" height="1"/><rect x="259" y="0" width="3" height="1"/><rect x="264" y="0" width="3" height="1"/><rect x="269" y="0" width="2" height="1"/><rect x="273" y="0" width="3" height="1"/></g>
<rect x="231" y="0" width="1.5" height="1" fill="#2060d0"/>
<rect x="285" y="0" width="1" height="9" fill="#a8a8a8"/><rect x="286" y="0" width="1" height="9" fill="#fff"/>
<g fill="#9a9a9a"><rect x="289" y="1" width="3" height="1"/><rect x="289" y="3" width="3" height="1"/><rect x="289" y="5" width="3" height="1"/></g>
<!-- chart scale icons: horizontal double arrows -->
<g stroke="#3c3c3c" stroke-width="1" fill="none">
<path d="M301 2.5H314.5M303.5 0V4.5M312 1L314.5 2.5L312 4"/>
<rect x="324" y="0" width="24" height="7" fill="#f8f8f8" stroke="none"/>
<path d="M329 2.5H343M331.5 0V4.5M340.5 1L343 2.5L340.5 4"/>
<path d="M357 2.5H371M359.5 0V4.5M368.5 1L371 2.5L368.5 4"/>
<rect x="476" y="0" width="24" height="7" fill="#f8f8f8" stroke="none"/>
<path d="M480.5 2.5H495M483 0V4.5M492.5 1L495 2.5L492.5 4"/>
<path d="M509 2.5H523M511.5 0V4.5M520.5 1L523 2.5L520.5 4"/>
</g>
<rect x="310" y="0" width="1.5" height="1.2" fill="#1a9a1a"/><rect x="338" y="0" width="1.5" height="1.2" fill="#1a9a1a"/><rect x="517" y="0" width="1.5" height="1.5" fill="#2a60d0"/>
<rect x="323" y="0" width="1" height="7" fill="#a8a8a8"/>
<rect x="380" y="0" width="1" height="7" fill="#a8a8a8"/>
<rect x="470" y="0" width="1" height="7" fill="#a8a8a8"/>
<rect x="503" y="0" width="1" height="7" fill="#a8a8a8"/>
<rect x="532" y="0" width="1" height="7" fill="#a8a8a8"/>
<!-- zoom in/out -->
<path d="M393 0L397 1.6" stroke="#2f74c8" stroke-width="2"/><path d="M398 .6L404.5 4.6" stroke="#c89a18" stroke-width="2.2" stroke-linecap="round"/><path d="M398.5 .2L405 4" stroke="#ecd070" stroke-width=".8"/>
<path d="M420.5 0L424.5 1.6" stroke="#2f74c8" stroke-width="2"/><path d="M425.5 .6L432 4.6" stroke="#c89a18" stroke-width="2.2" stroke-linecap="round"/><path d="M426 .2L432.5 4" stroke="#ecd070" stroke-width=".8"/>
<!-- tile icon -->
<rect x="445.5" y="-3" width="6.5" height="6.8" fill="#e8f0fc" stroke="#2f62c8" stroke-width="1"/><rect x="447.2" y="1" width="3" height="1" fill="#2f62c8"/>
<rect x="453.5" y="-3" width="6.8" height="6.8" fill="#eaf8e0" stroke="#58b030" stroke-width="1"/><rect x="455.4" y="1" width="3" height="1" fill="#58b030"/>
<!-- green plus 2 -->
<rect x="539.5" y="-1" width="4.5" height="2.6" fill="#fff" stroke="#8c8c8c" stroke-width=".8"/>
<path d="M543 0H557.5V2.6H554.8V6.2H549.2V2.6H543Z" fill="#0ed00e" stroke="#0a9a0a" stroke-width=".8"/>
<!-- clock -->
<path d="M580.5 0A7.5 4.2 0 0 0 595 0" fill="#e8eefc" stroke="#1c48b0" stroke-width="1.8"/>
<!-- template icon -->
<rect x="619" y="-4" width="15.5" height="7" fill="#fff" stroke="#2f74c8" stroke-width="1.3"/>
<path d="M622 .8Q624 2.2 626 .6T630 .8" stroke="#1a8a1a" stroke-width="1.1" fill="none"/>
<!-- top right mini icons drawn elsewhere -->
<!-- second row icons -->
<g fill="#555">
<g id="dots"><rect x="0" y="17" width="1" height="1"/><rect x="2" y="17" width="1" height="1"/><rect x="4" y="17" width="1" height="1"/><rect x="6" y="17" width="1" height="1"/><rect x="8" y="17" width="1" height="1"/><rect x="10" y="17" width="1" height="1"/><rect x="12" y="17" width="1" height="1"/></g>
<use href="#dots" y="3"/><use href="#dots" y="7"/>
<rect x="0" y="28" width="1" height="1"/><rect x="2" y="28" width="1" height="1"/><rect x="4" y="28" width="1" height="1"/><rect x="6" y="28" width="1" height="1"/><rect x="8" y="28" width="1" height="1"/>
</g>
<text x="9.8" y="32.8" font-family="Liberation Sans, sans-serif" font-size="6.8" font-weight="bold" fill="#444">F</text>
<text x="30.2" y="28.9" font-family="Liberation Sans, sans-serif" font-size="12.5" fill="#555">A</text>
<rect x="57.5" y="18.5" width="11" height="12" fill="none" stroke="#555" stroke-width="1" stroke-dasharray="1 1" shape-rendering="crispEdges"/>
<rect x="56" y="17.3" width="2.5" height="1" fill="#555"/>
<text x="59" y="29" font-family="Liberation Sans, sans-serif" font-size="11.5" font-weight="bold" fill="#555">T</text>
<path d="M87.5 17.8L91.2 21.4L89.6 23H85.4L83.8 21.4Z" fill="#505050"/>
<path d="M94.6 31L91 27.5L92.6 26H96.6L98.2 27.5Z" fill="#505050"/>
<path d="M86 25.6L88.5 27.6L92.6 22.4" stroke="#505050" stroke-width="1.2" fill="none"/>
<path d="M105 23.3H110.4L107.7 26.3Z" fill="#111"/>
</svg>
<svg width="60" height="8" viewBox="0 0 60 8" style="position:absolute;left:1672px;top:0">
<path d="M5.5 2.4L9.5 -1" stroke="#2a62d8" stroke-width="3"/>
<path d="M33 0Q33.5 3 37 3.2H42Q43.5 2.6 44 0Z" fill="#e6e6fa" stroke="#9a9aa8" stroke-width=".7"/>
<path d="M35.5 2.4L34.6 4.8L37.4 3" fill="#555"/>
<rect x="50" y="0" width="2" height="1.4" fill="#444"/>
</svg>
<svg width="12" height="8" viewBox="0 0 12 8" style="position:absolute;left:6px;top:45px"><path d="M1 2H8.4L4.7 6.2Z" fill="#000"/></svg>

<div class="t" style="left:19px;top:44px">CHINA300-,H4  4045.6 4093.0 4045.6 4070.4</div>
<div class="t" style="left:8.5px;top:554px">MACD(12,26,9) 2.88 15.84</div>
<div class="t" style="left:8.5px;top:669px">RSI(14) 50.4408</div>
<div class="t" style="left:1695px;top:45px">4256.0</div>
<div class="t" style="left:1695px;top:78px">4210.0</div>
<div class="t" style="left:1695px;top:111px">4165.0</div>
<div class="t" style="left:1695px;top:144px">4120.0</div>
<div class="t" style="left:1695px;top:177px">4075.0</div>
<div class="t" style="left:1695px;top:210px">4029.0</div>
<div class="t" style="left:1695px;top:243px">3984.0</div>
<div class="t" style="left:1695px;top:276px">3939.0</div>
<div class="t" style="left:1695px;top:309px">3893.0</div>
<div class="t" style="left:1695px;top:342px">3848.0</div>
<div class="t" style="left:1695px;top:375px">3803.0</div>
<div class="t" style="left:1695px;top:408px">3757.0</div>
<div class="t" style="left:1695px;top:441px">3712.0</div>
<div class="t" style="left:1695px;top:474px">3667.0</div>
<div class="t" style="left:1695px;top:507px">3622.0</div>
<div class="t" style="left:1695px;top:540px">3576.0</div>
<div class="t" style="left:1694px;top:552px">57.1</div>
<div class="t" style="left:1694px;top:585px">0.00</div>
<div class="t" style="left:1694px;top:651px">-109.43</div>
<div class="t" style="left:1694px;top:668px">100</div>
<div class="t" style="left:1694px;top:694px">70</div>
<div class="t" style="left:1694px;top:738px">30</div>
<div class="t" style="left:1694px;top:765px">0</div>
<div class="tag" style="top:135px;height:11px;background:#ff0000"><span>4130.0</span></div>
<div class="tag" style="top:179px;height:10px;background:#000"><span>4070.4</span></div>
<div class="tag" style="top:189px;height:11px;background:#00ff7f"><span>4055.0</span></div>
<div class="tag" style="top:258px;height:11px;background:#4169e1"><span>3960.0</span></div>
<div class="tag" style="top:320px;height:11px;background:#4169e1"><span>3875.0</span></div>
<div class="d" style="left:3px;top:781px">5 Nov 2019</div>
<div class="d" style="left:67px;top:781px">11 Nov 05:00</div>
<div class="d" style="left:131px;top:781px">15 Nov 05:00</div>
<div class="d" style="left:195px;top:781px">21 Nov 05:00</div>
<div class="d" style="left:259px;top:781px">27 Nov 05:00</div>
<div class="d" style="left:323px;top:781px">3 Dec 05:00</div>
<div class="d" style="left:387px;top:781px">9 Dec 05:00</div>
<div class="d" style="left:451px;top:781px">13 Dec 05:00</div>
<div class="d" style="left:515px;top:781px">19 Dec 05:00</div>
<div class="d" style="left:579px;top:781px">25 Dec 05:00</div>
<div class="d" style="left:643px;top:781px">31 Dec 05:00</div>
<div class="d" style="left:707px;top:781px">7 Jan 05:00</div>
<div class="d" style="left:771px;top:781px">13 Jan 05:00</div>
<div class="d" style="left:835px;top:781px">17 Jan 05:00</div>
<div class="d" style="left:899px;top:781px">23 Jan 05:00</div>
<div class="d" style="left:963px;top:781px">6 Feb 05:00</div>
<div class="d" style="left:1027px;top:781px">12 Feb 05:00</div>
<div class="d" style="left:1091px;top:781px">18 Feb 05:00</div>
<div class="d" style="left:1155px;top:781px">24 Feb 05:00</div>
<div class="d" style="left:1219px;top:781px">28 Feb 05:00</div>
<div class="d" style="left:1283px;top:781px">5 Mar 05:00</div>
<div class="a" style="left:1222px;top:412px;font-size:32px;line-height:44px;color:#ff1a00;white-space:pre">多空转折点<span style="font-size:35px;letter-spacing:-0.9px">4055</span></div>
</body></html>
